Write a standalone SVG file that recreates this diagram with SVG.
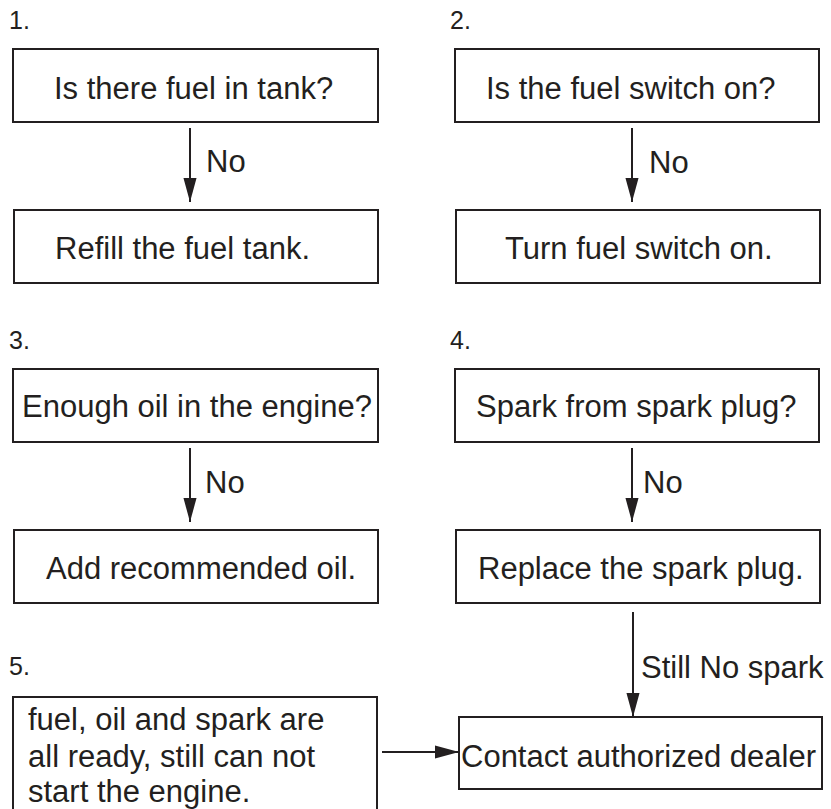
<svg xmlns="http://www.w3.org/2000/svg" width="831" height="809" viewBox="0 0 831 809">
<style>
.box{fill:#fff;stroke:#231f20;stroke-width:2}
.t{font-family:"Liberation Sans",Arial,sans-serif;font-size:31px;fill:#231f20}
.n{font-family:"Liberation Sans",Arial,sans-serif;font-size:25px;fill:#231f20}
.c{stroke:#231f20;stroke-width:2;fill:none}
</style>
<defs>
<marker id="ah" markerUnits="userSpaceOnUse" markerWidth="24" markerHeight="14" viewBox="0 0 22 12" refX="22" refY="6" orient="auto">
<path d="M0,0 L22,6 L0,12 Z" fill="#231f20"/>
</marker>
</defs>
<rect width="831" height="809" fill="#fff"/>
<g id="labels">
<text class="n" x="9" y="29">1.</text>
<text class="n" x="450" y="29">2.</text>
<text class="n" x="9" y="349">3.</text>
<text class="n" x="450" y="349">4.</text>
<text class="n" x="9" y="675">5.</text>
</g>
<g id="connectors">
<line class="c" x1="190" y1="128" x2="190" y2="202" marker-end="url(#ah)"/>
<text class="t" x="206" y="172">No</text>
<line class="c" x1="632" y1="128" x2="632" y2="202" marker-end="url(#ah)"/>
<text class="t" x="649" y="173">No</text>
<line class="c" x1="190" y1="448" x2="190" y2="522" marker-end="url(#ah)"/>
<text class="t" x="205" y="493">No</text>
<line class="c" x1="632" y1="448" x2="632" y2="522" marker-end="url(#ah)"/>
<text class="t" x="643" y="493">No</text>
<line class="c" x1="633" y1="612" x2="633" y2="717" marker-end="url(#ah)"/>
<text class="t" x="641" y="678">Still No spark</text>
<line class="c" x1="382" y1="752" x2="459" y2="752" marker-end="url(#ah)"/>
</g>
<g id="n1">
<rect class="box" x="13" y="49" width="365" height="73"/>
<text class="t" x="54" y="99">Is there fuel in tank?</text>
</g>
<g id="n1b">
<rect class="box" x="14" y="210" width="364" height="73"/>
<text class="t" x="55" y="259">Refill the fuel tank.</text>
</g>
<g id="n2">
<rect class="box" x="455" y="49" width="364" height="73"/>
<text class="t" x="486" y="99">Is the fuel switch on?</text>
</g>
<g id="n2b">
<rect class="box" x="456" y="210" width="364" height="73"/>
<text class="t" x="505" y="259">Turn fuel switch on.</text>
</g>
<g id="n3">
<rect class="box" x="13" y="369" width="365" height="73"/>
<text class="t" x="22" y="417">Enough oil in the engine?</text>
</g>
<g id="n3b">
<rect class="box" x="14" y="530" width="364" height="73"/>
<text class="t" x="46" y="579">Add recommended oil.</text>
</g>
<g id="n4">
<rect class="box" x="455" y="369" width="364" height="73"/>
<text class="t" x="476" y="417">Spark from spark plug?</text>
</g>
<g id="n4b">
<rect class="box" x="456" y="530" width="364" height="73"/>
<text class="t" x="478" y="579">Replace the spark plug.</text>
</g>
<g id="n5">
<path class="box" d="M13,812 V697 H377 V812"/>
<text class="t" x="28" y="730">fuel, oil and spark are</text>
<text class="t" x="28" y="767">all ready, still can not</text>
<text class="t" x="28" y="802">start the engine.</text>
</g>
<g id="n6">
<rect class="box" x="459" y="717" width="363" height="72"/>
<text class="t" x="461" y="767">Contact authorized dealer</text>
</g>
</svg>
